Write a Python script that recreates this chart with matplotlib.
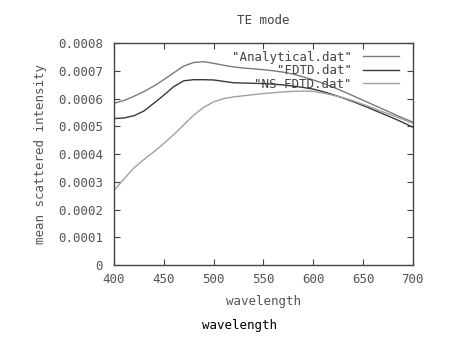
import matplotlib.pyplot as plt

plt.rcParams['font.family'] = ['DejaVu Sans Mono']

# wavelength grid (nm)
wavelength = [400, 410, 420, 430, 440, 450, 460, 470, 480, 490, 500,
              510, 520, 530, 540, 550, 560, 570, 580, 590, 600,
              610, 620, 630, 640, 650, 660, 670, 680, 690, 700]

# mean scattered intensity
analytical = [0.000583, 0.000593, 0.000608, 0.000625, 0.000645, 0.000668, 0.000693, 0.000717,
              0.000730, 0.000733, 0.000727, 0.000720, 0.000714, 0.000710, 0.000707, 0.000704,
              0.000700, 0.000695, 0.000688, 0.000678, 0.000667, 0.000655, 0.000641, 0.000626,
              0.000610, 0.000594, 0.000578, 0.000562, 0.000546, 0.000530, 0.000515]
fdtd = [0.000528, 0.000530, 0.000538, 0.000555, 0.000583, 0.000612, 0.000643, 0.000664,
        0.000668, 0.000668, 0.000667, 0.000662, 0.000657, 0.000656, 0.000655, 0.000654,
        0.000652, 0.000649, 0.000645, 0.000640, 0.000634, 0.000625, 0.000614, 0.000602,
        0.000589, 0.000575, 0.000560, 0.000545, 0.000530, 0.000514, 0.000497]
ns_fdtd = [0.000268, 0.000310, 0.000350, 0.000380, 0.000408, 0.000438, 0.000470, 0.000505,
           0.000540, 0.000568, 0.000588, 0.000600, 0.000606, 0.000610, 0.000614, 0.000618,
           0.000621, 0.000624, 0.000626, 0.000627, 0.000626, 0.000620, 0.000612, 0.000603,
           0.000592, 0.000579, 0.000566, 0.000552, 0.000539, 0.000525, 0.000511]

labels = ['"Analytical.dat"', '"FDTD.dat"', '"NS-FDTD.dat"']
colors = ['#7a7a7a', '#3a3a3a', '#a0a0a0']

fig = plt.figure(figsize=(4.67, 3.39), dpi=100)
ax = fig.add_axes([0.244, 0.218, 0.640, 0.655])

for ys, lab, c in zip([analytical, fdtd, ns_fdtd], labels, colors):
    ax.plot(wavelength, ys, color=c, lw=1.0, label=lab)

ax.set_xlim(400, 700)
ax.set_ylim(0, 0.0008)
ax.set_xticks(range(400, 701, 50))
ax.set_yticks([i * 0.0001 for i in range(9)])
ax.set_yticklabels(['0'] + ['%.4f' % (i * 0.0001) for i in range(1, 9)])

ax.tick_params(direction='in', length=4, width=0.8, top=True, right=True,
               labelsize=9, labelcolor='#555555', color='#444444')
ax.tick_params(axis='y', pad=8)
ax.tick_params(axis='x', pad=6)
for s in ax.spines.values():
    s.set_color('#444444')
    s.set_linewidth(1.0)

ax.set_title('TE mode', fontsize=9, color='#444444', pad=14)
ax.set_xlabel('wavelength', fontsize=9, color='#555555', labelpad=6)
ax.set_ylabel('mean scattered intensity', fontsize=9, color='#555555', labelpad=8)

leg = ax.legend(loc='upper right', frameon=False, markerfirst=False, fontsize=9,
                handlelength=2.9, handletextpad=0.9, labelspacing=0.05,
                borderaxespad=0.2, bbox_to_anchor=(0.98, 1.0))
for t in leg.get_texts():
    t.set_color('#444444')

fig.text(240 / 467, 1 - 326 / 339, 'wavelength', fontsize=9, color='black',
         ha='center', va='center')

fig.savefig('out.png', dpi=100)
